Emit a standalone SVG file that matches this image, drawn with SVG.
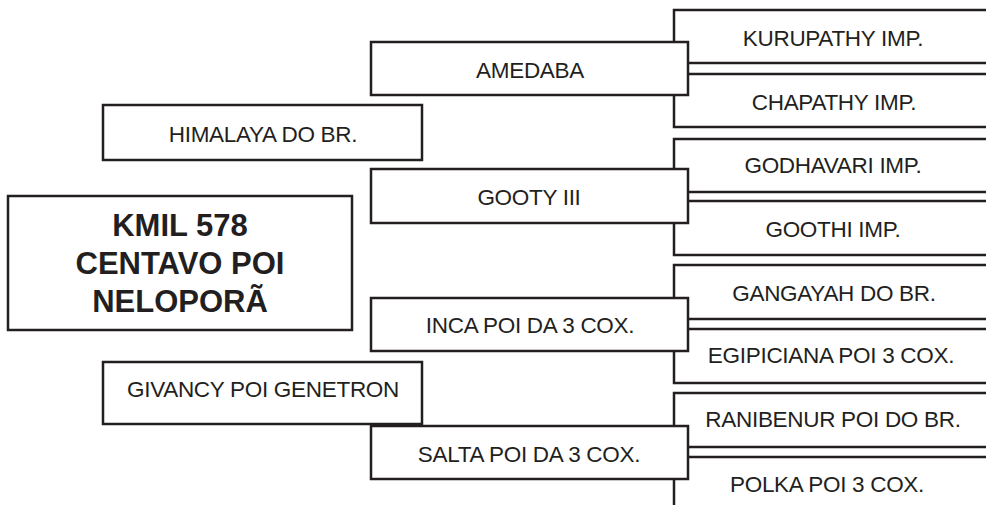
<svg xmlns="http://www.w3.org/2000/svg" width="986" height="505" viewBox="0 0 986 505">
<style>
.box{fill:#fff;stroke:#231f20;stroke-width:2.5}
.t{font-family:"Liberation Sans",Arial,sans-serif;font-size:22.5px;letter-spacing:-0.3px;fill:#231f20;text-anchor:middle}
.b{font-family:"Liberation Sans",Arial,sans-serif;font-size:31px;font-weight:bold;fill:#231f20;text-anchor:middle}
</style>
<rect width="986" height="505" fill="#fff"/>
<g id="connectors"></g>
<g id="kurupathy"><rect class="box" x="674" y="10" width="330" height="53"/><text class="t" x="833" y="46">KURUPATHY IMP.</text></g>
<g id="chapathy"><rect class="box" x="674" y="74" width="330" height="53"/><text class="t" x="834" y="110">CHAPATHY IMP.</text></g>
<g id="godhavari"><rect class="box" x="674" y="139" width="330" height="53"/><text class="t" x="833" y="173">GODHAVARI IMP.</text></g>
<g id="goothi"><rect class="box" x="674" y="201" width="330" height="54"/><text class="t" x="833" y="237">GOOTHI IMP.</text></g>
<g id="gangayah"><rect class="box" x="674" y="265" width="330" height="54"/><text class="t" x="834" y="301">GANGAYAH DO BR.</text></g>
<g id="egipiciana"><rect class="box" x="674" y="329" width="330" height="54"/><text class="t" x="831" y="363">EGIPICIANA POI 3 COX.</text></g>
<g id="ranibenur"><rect class="box" x="674" y="393" width="330" height="54"/><text class="t" x="833" y="427">RANIBENUR POI DO BR.</text></g>
<g id="polka"><rect class="box" x="674" y="457" width="330" height="80"/><text class="t" x="827" y="492">POLKA POI 3 COX.</text></g>
<g id="amedaba"><rect class="box" x="371" y="42" width="317" height="53"/><text class="t" x="530" y="78">AMEDABA</text></g>
<g id="gooty"><rect class="box" x="371" y="169" width="317" height="54"/><text class="t" x="529" y="205">GOOTY III</text></g>
<g id="inca"><rect class="box" x="371" y="298" width="317" height="53"/><text class="t" x="530" y="333">INCA POI DA 3 COX.</text></g>
<g id="salta"><rect class="box" x="371" y="426" width="317" height="53"/><text class="t" x="529" y="462">SALTA POI DA 3 COX.</text></g>
<g id="himalaya"><rect class="box" x="103" y="105" width="319" height="55"/><text class="t" x="263" y="142">HIMALAYA DO BR.</text></g>
<g id="givancy"><rect class="box" x="103" y="362" width="319" height="62"/><text class="t" x="263" y="397">GIVANCY POI GENETRON</text></g>
<g id="kmil"><rect class="box" x="8" y="196" width="344" height="134"/>
<text class="b" x="180" y="236">KMIL 578</text>
<text class="b" x="180" y="274">CENTAVO POI</text>
<text class="b" x="180" y="312">NELOPORÃ</text></g>
</svg>
